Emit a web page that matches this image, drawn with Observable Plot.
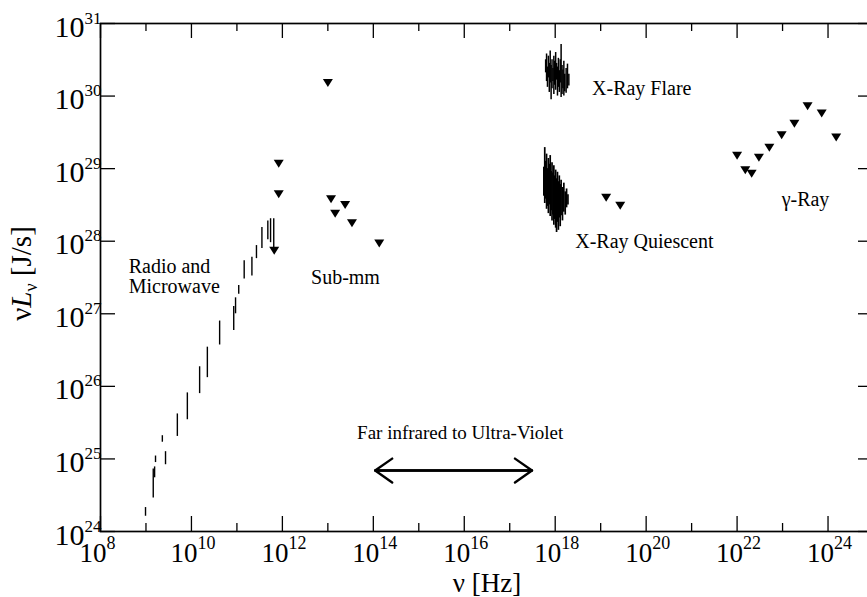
<!DOCTYPE html>
<html><head><meta charset="utf-8">
<script src="https://cdn.jsdelivr.net/npm/d3@7"></script>
<script src="https://cdn.jsdelivr.net/npm/@observablehq/plot@0.6"></script>
<style>
html,body{margin:0;padding:0;background:#fff;}
#chart{width:867px;height:597px;overflow:hidden;}
#chart svg, #chart svg text{font-family:'Liberation Serif','Times New Roman',serif !important;}
</style></head><body><div id="chart"></div>
<script>
// All values are log10 of ν [Hz] and of νLν [J/s]
const radioNu = [8.99, 9.16, 9.19, 9.21, 9.36, 9.43, 9.69, 9.91, 10.18, 10.35, 10.62, 10.93, 10.97, 11.04, 11.16, 11.33, 11.43, 11.55, 11.68, 11.74, 11.81];
const radioLo = [24.21, 24.46, 24.74, 24.95, 25.23, 24.92, 25.31, 25.54, 25.90, 26.12, 26.57, 26.77, 27.00, 27.27, 27.48, 27.52, 27.76, 27.90, 28.02, 27.98, 27.91];
const radioHi = [24.33, 24.86, 24.89, 25.04, 25.32, 25.10, 25.62, 25.91, 26.27, 26.54, 26.90, 27.10, 27.22, 27.39, 27.73, 27.78, 27.94, 28.19, 28.28, 28.31, 28.31];

const flareNu = [17.79, 17.81, 17.83, 17.85, 17.87, 17.89, 17.91, 17.93, 17.95, 17.97, 17.99, 18.01, 18.03, 18.05, 18.07, 18.09, 18.11, 18.13, 18.15, 18.17, 18.19, 18.21, 18.24, 18.27, 18.30];
const flareLo = [30.32, 30.20, 30.12, 30.25, 30.05, 30.18, 29.95, 30.10, 30.20, 30.02, 30.15, 30.08, 30.22, 30.00, 30.12, 30.05, 30.18, 29.98, 30.02, 30.10, 30.00, 30.06, 30.04, 30.10, 30.14];
const flareHi = [30.50, 30.58, 30.40, 30.55, 30.45, 30.62, 30.42, 30.50, 30.38, 30.55, 30.48, 30.60, 30.45, 30.40, 30.52, 30.35, 30.50, 30.71, 30.42, 30.36, 30.48, 30.30, 30.38, 30.44, 30.30];

const quietNu = [17.75, 17.77, 17.79, 17.81, 17.83, 17.85, 17.87, 17.89, 17.91, 17.93, 17.95, 17.97, 17.99, 18.01, 18.03, 18.05, 18.07, 18.09, 18.11, 18.13, 18.16, 18.19, 18.22, 18.25, 18.28];
const quietLo = [28.62, 28.52, 28.58, 28.44, 28.48, 28.38, 28.50, 28.34, 28.42, 28.28, 28.36, 28.22, 28.30, 28.18, 28.12, 28.26, 28.15, 28.32, 28.20, 28.35, 28.28, 28.40, 28.36, 28.46, 28.50];
const quietHi = [29.02, 29.29, 29.10, 29.20, 29.00, 29.14, 29.06, 29.18, 28.96, 29.08, 28.94, 29.04, 28.90, 28.98, 28.86, 28.95, 28.82, 28.90, 28.78, 28.84, 28.74, 28.80, 28.68, 28.72, 28.64];

const limitNu = [11.92, 11.92, 11.82, 13.00, 13.07, 13.16, 13.38, 13.53, 14.13, 19.12, 19.43, 22.00, 22.18, 22.32, 22.48, 22.71, 22.98, 23.26, 23.55, 23.86, 24.18];
const limitL  = [29.07, 28.65, 27.87, 30.18, 28.58, 28.38, 28.50, 28.25, 27.97, 28.60, 28.49, 29.18, 28.98, 28.93, 29.15, 29.29, 29.46, 29.62, 29.86, 29.76, 29.43];

const labelText = ["Radio and\nMicrowave", "Sub-mm", "X-Ray Flare", "X-Ray Quiescent", "γ-Ray"];
const labelNu   = [8.62, 12.63, 18.81, 18.44, 22.98];
const labelL    = [27.29, 27.41, 30.01, 27.90, 28.49];

const bandText = "Far infrared to Ultra-Violet";
const bandNu = [14.04, 17.49];
const bandL = 24.84;
const bandLabelNu = 15.91;
const bandLabelL = 25.28;

const xMajorExp = [8, 10, 12, 14, 16, 18, 20, 22, 24];
const xMinorExp = [9, 11, 13, 15, 17, 19, 21, 23, 25];
const yExp = [24, 25, 26, 27, 28, 29, 30, 31];

// layout
const W = 867, H = 597, mL = 100, mT = 23, mB = 66, mR = -6;
const fw = W - mL - mR, fh = H - mT - mB;
const p = v => 10 ** v;
const seg = (nu, lo, hi) => nu.map((n, i) => ({nu: n, lo: lo[i], hi: hi[i]}));
const radio = seg(radioNu, radioLo, radioHi);
const flare = seg(flareNu, flareLo, flareHi);
const quiet = seg(quietNu, quietLo, quietHi);
const limits = limitNu.map((n, i) => ({nu: n, L: limitL[i]}));
const labels = labelText.map((t, i) => ({t, nu: labelNu[i], L: labelL[i]}));

const triDown = {draw(ctx, size) { const r = Math.sqrt(size / Math.PI); ctx.moveTo(-r, -0.78 * r); ctx.lineTo(r, -0.78 * r); ctx.lineTo(0, 0.82 * r); ctx.closePath(); }};

const font = "Liberation Serif";

const chart = Plot.plot({
  width: W, height: H,
  marginLeft: mL, marginTop: mT, marginBottom: mB, marginRight: mR,
  style: {fontFamily: font, background: "white", color: "black"},
  x: {type: "log", domain: [1e8, 1e25], axis: null},
  y: {type: "log", domain: [1e24, 1e31], axis: null},
  marks: [
    // ticks (inward)
    Plot.tickX(xMajorExp, {x: p, insetTop: fh - 15, strokeWidth: 1.3}),
    Plot.tickX(xMajorExp, {x: p, insetBottom: fh - 15, strokeWidth: 1.3}),
    Plot.tickX(xMinorExp, {x: p, insetTop: fh - 8, strokeWidth: 1.3}),
    Plot.tickX(xMinorExp, {x: p, insetBottom: fh - 8, strokeWidth: 1.3}),
    Plot.tickY(yExp, {y: p, insetRight: fw - 15, strokeWidth: 1.3}),
    Plot.tickY(yExp, {y: p, insetLeft: fw - 15, strokeWidth: 1.3}),
    Plot.frame({strokeWidth: 1.7}),
    // tick labels
    Plot.text(xMajorExp, {x: p, frameAnchor: "bottom", text: () => "10", textAnchor: "end", lineAnchor: "bottom", dx: 6, dy: 30, fontSize: 27, fontFamily: font}),
    Plot.text(xMajorExp, {x: p, frameAnchor: "bottom", text: d => String(d), textAnchor: "start", lineAnchor: "bottom", dx: 6, dy: 17, fontSize: 18, fontFamily: font}),
    Plot.text(yExp, {y: p, frameAnchor: "left", text: () => "10", textAnchor: "end", lineAnchor: "bottom", dx: -16, dy: 13, fontSize: 30, fontFamily: font}),
    Plot.text(yExp, {y: p, frameAnchor: "left", text: d => String(d), textAnchor: "start", lineAnchor: "bottom", dx: -16, dy: 0, fontSize: 17, fontFamily: font}),
    // axis labels
    Plot.text(["ν [Hz]"], {frameAnchor: "bottom", text: d => d, textAnchor: "middle", lineAnchor: "bottom", dy: 60, fontSize: 27, fontFamily: font}),
    Plot.text(["νLν [J/s]"], {frameAnchor: "left", text: d => d, rotate: -90, textAnchor: "middle", lineAnchor: "middle", dx: -79, dy: -4, fontSize: 29, fontFamily: font}),
    // data
    Plot.ruleX(radio, {x: d => p(d.nu), y1: d => p(d.lo), y2: d => p(d.hi), strokeWidth: 1.4}),
    Plot.ruleX(flare, {x: d => p(d.nu), y1: d => p(d.lo), y2: d => p(d.hi), strokeWidth: 1.5}),
    Plot.ruleX(quiet, {x: d => p(d.nu), y1: d => p(d.lo), y2: d => p(d.hi), strokeWidth: 1.7}),
    Plot.dot(limits, {x: d => p(d.nu), y: d => p(d.L), symbol: triDown, r: 5, fill: "black", stroke: "none"}),
    // band arrow
    Plot.arrow([{a: bandNu[0], b: bandNu[1]}], {x1: d => p(d.a), x2: d => p(d.b), y1: p(bandL), y2: p(bandL), strokeWidth: 2.4, headLength: 13, headAngle: 70}),
    Plot.arrow([{a: bandNu[1], b: bandNu[0]}], {x1: d => p(d.a), x2: d => p(d.b), y1: p(bandL), y2: p(bandL), strokeWidth: 2.4, headLength: 13, headAngle: 70}),
    Plot.text([bandText], {x: p(bandLabelNu), y: p(bandLabelL), text: d => d, textAnchor: "middle", lineAnchor: "bottom", fontSize: 19, fontFamily: font}),
    Plot.text(labels, {x: d => p(d.nu), y: d => p(d.L), text: "t", textAnchor: "start", lineAnchor: "bottom", fontSize: 20, lineHeight: 1.0, fontFamily: font})
  ]
});
document.getElementById("chart").appendChild(chart);
// rich y label: ν L(italic) subscript ν
const yl = d3.select(chart).selectAll("text").filter(function () { return this.textContent === "νLν [J/s]"; });
if (!yl.empty()) {
  yl.text(null);
  yl.append("tspan").text("ν");
  yl.append("tspan").attr("font-style", "italic").text("L");
  yl.append("tspan").attr("font-size", "0.62em").attr("dy", "0.35em").text("ν");
  yl.append("tspan").attr("dy", "-0.22em").text(" [J/s]");
}
</script></body></html>
